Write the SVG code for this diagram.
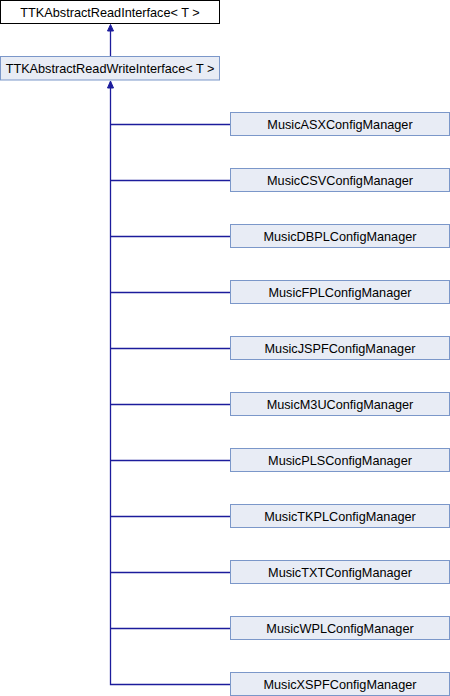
<svg xmlns="http://www.w3.org/2000/svg" width="450" height="696" viewBox="0 0 450 696">
<style>
.bg{fill:#ffffff}
.n rect{fill:#e8ecf5;stroke:#7b97c9;stroke-width:1}
.n.top rect{fill:#ffffff;stroke:#000000}
.n text{font-family:"Liberation Sans",Arial,sans-serif;font-size:12.7px;fill:#000000;text-anchor:middle}
.e{stroke:#1c1c9c;stroke-width:1.3;fill:none}
.ah{fill:#1c1c9c;stroke:#1c1c9c}
</style>
<rect class="bg" x="0" y="0" width="450" height="696"/>
<g id="edges">
<path class="e" d="M110.5,31 V56"/>
<polygon class="ah" points="110.5,24.5 107.5,31 113.5,31"/>
<path class="e" d="M110.5,88 V684.5 H230"/>
<polygon class="ah" points="110.5,81 107.5,88 113.5,88"/>
<path class="e" d="M110.5,124.5 H230"/>
<path class="e" d="M110.5,180.5 H230"/>
<path class="e" d="M110.5,236.5 H230"/>
<path class="e" d="M110.5,292.5 H230"/>
<path class="e" d="M110.5,348.5 H230"/>
<path class="e" d="M110.5,404.5 H230"/>
<path class="e" d="M110.5,460.5 H230"/>
<path class="e" d="M110.5,516.5 H230"/>
<path class="e" d="M110.5,572.5 H230"/>
<path class="e" d="M110.5,628.5 H230"/>
</g>
<g id="n0" class="n top"><rect x="0.5" y="0.5" width="219" height="23"/><text x="110" y="16.5">TTKAbstractReadInterface&lt; T &gt;</text></g>
<g id="n1" class="n"><rect x="0.5" y="56.5" width="219" height="23.5"/><text x="110" y="72.5">TTKAbstractReadWriteInterface&lt; T &gt;</text></g>
<g id="n2" class="n"><rect x="230.5" y="112.5" width="219" height="23"/><text x="340" y="128.5">MusicASXConfigManager</text></g>
<g id="n3" class="n"><rect x="230.5" y="168.5" width="219" height="23"/><text x="340" y="184.5">MusicCSVConfigManager</text></g>
<g id="n4" class="n"><rect x="230.5" y="224.5" width="219" height="23"/><text x="340" y="240.5">MusicDBPLConfigManager</text></g>
<g id="n5" class="n"><rect x="230.5" y="280.5" width="219" height="23"/><text x="340" y="296.5">MusicFPLConfigManager</text></g>
<g id="n6" class="n"><rect x="230.5" y="336.5" width="219" height="23"/><text x="340" y="352.5">MusicJSPFConfigManager</text></g>
<g id="n7" class="n"><rect x="230.5" y="392.5" width="219" height="23"/><text x="340" y="408.5">MusicM3UConfigManager</text></g>
<g id="n8" class="n"><rect x="230.5" y="448.5" width="219" height="23"/><text x="340" y="464.5">MusicPLSConfigManager</text></g>
<g id="n9" class="n"><rect x="230.5" y="504.5" width="219" height="23"/><text x="340" y="520.5">MusicTKPLConfigManager</text></g>
<g id="n10" class="n"><rect x="230.5" y="560.5" width="219" height="23"/><text x="340" y="576.5">MusicTXTConfigManager</text></g>
<g id="n11" class="n"><rect x="230.5" y="616.5" width="219" height="23"/><text x="340" y="632.5">MusicWPLConfigManager</text></g>
<g id="n12" class="n"><rect x="230.5" y="672.5" width="219" height="23"/><text x="340" y="688.5">MusicXSPFConfigManager</text></g>
</svg>
